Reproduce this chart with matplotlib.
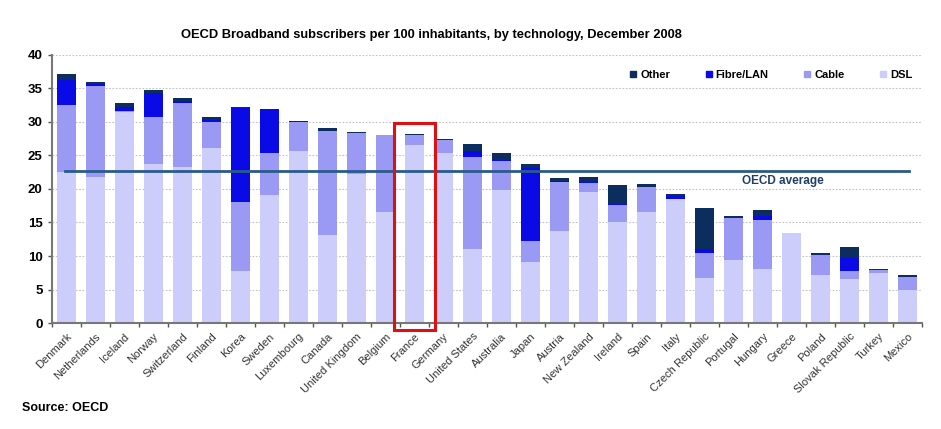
import matplotlib
matplotlib.use("Agg")
import matplotlib.pyplot as plt
from matplotlib.patches import Rectangle
from matplotlib.lines import Line2D
import numpy as np

plt.rcParams['font.family'] = ['Liberation Sans', 'DejaVu Sans']

countries = ["Denmark", "Netherlands", "Iceland", "Norway", "Switzerland",
             "Finland", "Korea", "Sweden", "Luxembourg", "Canada",
             "United Kingdom", "Belgium", "France", "Germany", "United States",
             "Australia", "Japan", "Austria", "New Zealand", "Ireland",
             "Spain", "Italy", "Czech Republic", "Portugal", "Hungary",
             "Greece", "Poland", "Slovak Republic", "Turkey", "Mexico"]

dsl = [22.6, 21.8, 31.5, 23.8, 23.3, 26.1, 7.7, 19.1, 25.7, 13.1,
       22.2, 16.6, 26.6, 25.4, 11.1, 19.9, 9.1, 13.8, 19.5, 15.1,
       16.6, 18.5, 6.7, 9.4, 8.0, 13.5, 7.2, 6.5, 7.5, 5.0]
cable = [10.0, 13.6, 0.2, 7.0, 9.6, 3.9, 10.4, 6.2, 4.3, 15.5,
         6.2, 11.4, 1.4, 1.9, 13.6, 4.3, 3.2, 7.3, 1.4, 2.5,
         3.7, 0.0, 3.8, 6.2, 7.4, 0.0, 2.9, 1.3, 0.4, 1.8]
fibre = [3.6, 0.2, 0.6, 3.5, 0.2, 0.3, 14.0, 6.6, 0.1, 0.0,
         0.0, 0.0, 0.1, 0.0, 1.0, 0.1, 10.8, 0.1, 0.1, 0.1,
         0.0, 0.5, 0.5, 0.0, 0.5, 0.0, 0.0, 1.9, 0.0, 0.0]
other = [1.0, 0.4, 0.5, 0.4, 0.4, 0.5, 0.1, 0.1, 0.1, 0.5,
         0.1, 0.1, 0.1, 0.2, 1.0, 1.1, 0.6, 0.4, 0.8, 2.9,
         0.4, 0.3, 6.2, 0.4, 0.9, 0.0, 0.4, 1.6, 0.1, 0.3]
oecd_average = 22.7
highlight = "France"

c_dsl = '#cccdfb'
c_cable = '#9a9af5'
c_fibre = '#0a0ae6'
c_other = '#0b2e5e'

fig = plt.figure(figsize=(9.41, 4.29), dpi=100)
ax = fig.add_axes([0.055, 0.247, 0.925, 0.625])

x = np.arange(len(countries))
w = 0.66
b1 = np.array(dsl)
b2 = b1 + np.array(cable)
b3 = b2 + np.array(fibre)
ax.bar(x, dsl, width=w, color=c_dsl, zorder=2)
ax.bar(x, cable, width=w, bottom=b1, color=c_cable, zorder=2)
ax.bar(x, fibre, width=w, bottom=b2, color=c_fibre, zorder=2)
ax.bar(x, other, width=w, bottom=b3, color=c_other, zorder=2)

ax.plot([-0.05, 29.05], [oecd_average, oecd_average], color='#2a5a8c',
        lw=2, zorder=3)
ax.text(24.7, oecd_average - 0.6, "OECD average", ha='center', va='top',
        fontsize=8.5, fontweight='bold', color='#1f3f66', zorder=4)

i = countries.index(highlight)
ax.add_patch(Rectangle((i - 0.72, -1.0), 1.44, 30.8, fill=False,
                       edgecolor='#dd1111', lw=2.2, clip_on=False, zorder=5))

ax.set_xlim(-0.5, len(countries) - 0.5)
ax.set_ylim(0, 40)
ax.set_yticks(np.arange(0, 41, 5))
ax.yaxis.grid(True, linestyle=(0, (1.5, 1.5)), color='#c2c2c2', lw=0.8,
              zorder=0)
ax.set_xticks(x)
ax.set_xticklabels(countries, rotation=45, ha='right', rotation_mode='anchor',
                   fontsize=8, color='#333333')
ax.set_xticks(np.arange(-0.5, len(countries)), minor=True)
ax.tick_params(axis='x', which='major', length=0, pad=6)
ax.tick_params(axis='x', which='minor', length=3, color='#555555', width=1)
ax.tick_params(axis='y', length=3, color='#555555', width=1, labelsize=9.5)
for lab in ax.get_yticklabels():
    lab.set_fontweight('bold')
for s in ['top', 'right']:
    ax.spines[s].set_visible(False)
for s in ['left', 'bottom']:
    ax.spines[s].set_color('#777777')
    ax.spines[s].set_linewidth(1.5)

handles = [Line2D([], [], marker='s', ls='', color=c, markersize=4)
           for c in [c_other, c_fibre, c_cable, c_dsl]]
ax.legend(handles, ['Other', 'Fibre/LAN', 'Cable', 'DSL'], ncol=4,
          loc='center right', bbox_to_anchor=(1.0, 0.925), frameon=False,
          handletextpad=0.1, columnspacing=3.0, handlelength=1,
          prop={'weight': 'bold', 'size': 8})

fig.text(431 / 941, 1 - 35 / 429,
         "OECD Broadband subscribers per 100 inhabitants, by technology, December 2008",
         ha='center', va='center', fontsize=9.3, fontweight='bold')
fig.text(22 / 941, 1 - 408 / 429, "Source: OECD", ha='left', va='center',
         fontsize=9, fontweight='bold')

fig.savefig("out.png", dpi=100)
